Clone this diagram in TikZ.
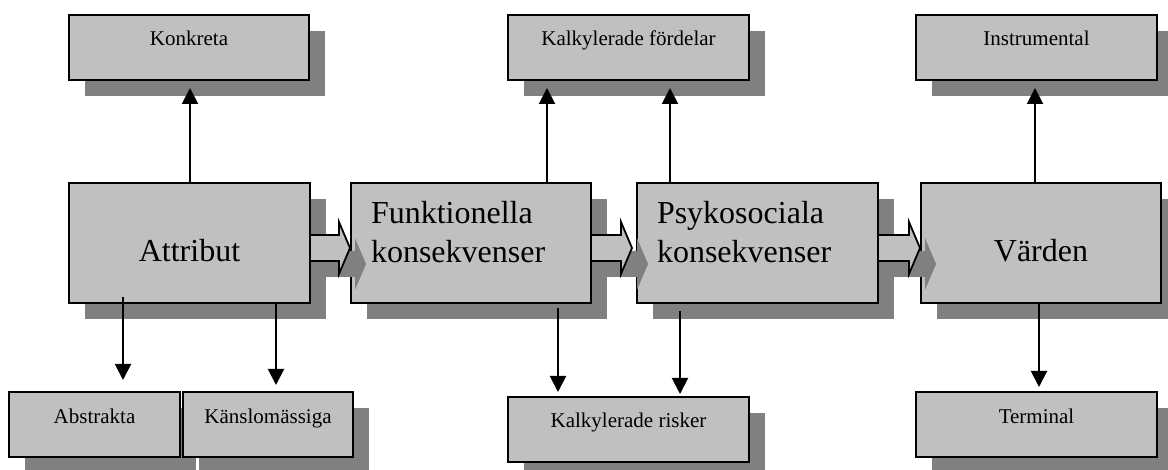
\documentclass[tikz,border=0pt]{standalone}
\usepackage{fontspec}
\setmainfont{Liberation Serif}
\usetikzlibrary{arrows.meta,calc,shadows}
\definecolor{boxfill}{HTML}{C0C0C0}
\definecolor{shadowfill}{HTML}{808080}

\tikzset{
  panel/.style={draw=black, line width=1.8pt, fill=boxfill, inner sep=0pt,
    outer sep=0pt, anchor=north west,
    drop shadow={shadow xshift=16pt, shadow yshift=-16pt, fill=shadowfill, opacity=1}},
  smallbox/.style={panel, minimum height=65pt, font=\fontsize{21}{25}\selectfont,
    text height=12pt, text depth=15pt},
  mainbox/.style={panel, minimum height=120pt, font=\fontsize{32}{39}\selectfont},
  centred/.style={mainbox, text height=38pt, text depth=0pt},
  twoline/.style={mainbox, align=left, inner xsep=20pt},
  link/.style={line width=2pt, -{Triangle[width=16pt,length=16pt]}},
  flowbody/.style={draw=black, line width=1.8pt, fill=boxfill},
  flowshadow/.style={fill=shadowfill},
}

% broad block arrow with its shadow, from the east side of #1 to the west side of #2;
% #3 is the gap left in front of #2
\newcommand\flowarrow[3]{%
  \foreach \off/\look in {16/flowshadow,0/flowbody}{%
    \path[\look] let \p1=(#1.east), \p2=(#2.west) in
      (\x1+\off pt,\y1+8pt-\off pt)
      -- (\x2-#3pt-11pt+\off pt,\y1+8pt-\off pt)
      -- (\x2-#3pt-11pt+\off pt,\y1+21pt-\off pt)
      -- (\x2-#3pt+\off pt,\y1-5pt-\off pt)
      -- (\x2-#3pt-11pt+\off pt,\y1-31pt-\off pt)
      -- (\x2-#3pt-11pt+\off pt,\y1-18pt-\off pt)
      -- (\x1+\off pt,\y1-18pt-\off pt) -- cycle;
  }%
}

\begin{document}
\begin{tikzpicture}[x=1pt,y=-1pt]
  \clip (0,0) rectangle (1168,470);
  \fill[white] (0,0) rectangle (1168,470);

  % upper row
  \node[smallbox, minimum width=240pt] (konk)  at (69,15)  {Konkreta};
  \node[smallbox, minimum width=241pt] (kfor)  at (508,15) {Kalkylerade fördelar};
  \node[smallbox, minimum width=241pt] (instr) at (916,15) {Instrumental};

  % main chain
  \node[centred, minimum width=241pt] (attr) at (69,183) {Attribut};
  \node[twoline, minimum width=240pt, text width=200pt] (funk) at (351,183)
    {Funktionella\\konsekvenser\rule[-22pt]{0pt}{22pt}};
  \node[twoline, minimum width=241pt, text width=201pt] (psyk) at (637,183)
    {Psykosociala\\konsekvenser\rule[-22pt]{0pt}{22pt}};
  \node[centred, minimum width=240pt] (vard) at (921,183) {Värden};

  % lower row
  \node[smallbox, minimum width=171pt] (abst)  at (9,392)   {Abstrakta};
  \node[smallbox, minimum width=170pt] (kansl) at (183,392) {Känslomässiga};
  \node[smallbox, minimum width=241pt] (risk)  at (508,397) {Kalkylerade risker};
  \node[smallbox, minimum width=241pt] (term)  at (916,392) {Terminal};

  % block arrows along the chain
  \flowarrow{attr}{funk}{1}
  \flowarrow{funk}{psyk}{5}
  \flowarrow{psyk}{vard}{1}

  % upward links
  \draw[link, shorten >=8pt] (attr.north -| 190,0)  -- (konk.south -| 190,0);
  \draw[link, shorten >=8pt] (funk.north -| 547,0)  -- (kfor.south -| 547,0);
  \draw[link, shorten >=8pt] (psyk.north -| 670,0)  -- (kfor.south -| 670,0);
  \draw[link, shorten >=8pt] (vard.north -| 1035,0) -- (instr.south -| 1035,0);

  % downward links
  \draw[link, shorten <=-6pt, shorten >=12pt] (attr.south -| 123,0) -- (abst.north -| 123,0);
  \draw[link, shorten >=7pt] (attr.south -| 276,0) -- (kansl.north -| 276,0);
  \draw[link, shorten <=5pt, shorten >=5pt] (funk.south -| 558,0) -- (risk.north -| 558,0);
  \draw[link, shorten <=8pt, shorten >=3pt] (psyk.south -| 680,0) -- (risk.north -| 680,0);
  \draw[link, shorten >=5pt] (vard.south -| 1039,0) -- (term.north -| 1039,0);
\end{tikzpicture}
\end{document}
